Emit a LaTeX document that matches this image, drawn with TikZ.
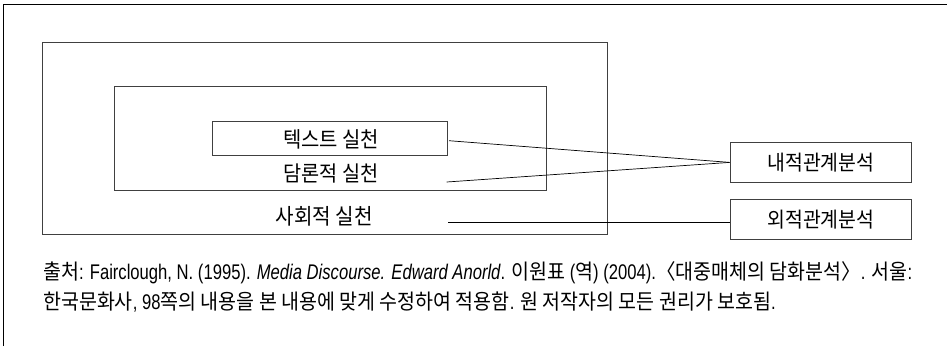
\documentclass[tikz,border=0pt]{standalone}
\usepackage{fontspec}
\usepackage{graphicx}
\setmainfont{Noto Sans CJK KR}[FakeStretch=0.92]
\newfontfamily\latinfnt{Liberation Sans}[FakeStretch=0.9]
\def\latfac{1}
\newcommand\LT[1]{\scalebox{\latfac}[1]{\latinfnt #1}}
\newcommand\LTI[1]{\scalebox{\latfac}[1]{\latinfnt\itshape #1}}
\newcommand\capfont{\fontsize{18.5}{22}\selectfont}
\newcommand\lineone{출처\LT{: Fairclough, N. (1995). }\LTI{Media Discourse. Edward Anorld}\LT{. }이원표\LT{ (}역\LT{) (2004).}〈대중매체의 담화분석〉\LT{. }서울\LT{:}}
\newcommand\linetwo{한국문화사\LT{, 98}쪽의 내용을 본 내용에 맞게 수정하여 적용함\LT{. }원 저작자의 모든 권리가 보호됨\LT{.}}
\newsavebox\capAbox
\newsavebox\capBbox
\begin{document}
\begin{tikzpicture}[x=1pt,y=-1pt,
  box/.style={draw=black!75, line width=0.8pt},
  lbl/.style={font=\fontsize{19}{22}\selectfont, inner sep=0pt},
  conn/.style={draw=black, line width=0.7pt},
  captxt/.style={font=\capfont, inner sep=0pt, anchor=west}]
% measure caption lines so both share one scale and line 1 fits its width
\pgfinterruptpicture
\normalfont
\sbox\capBbox{\capfont\linetwo}
\pgfmathsetmacro\sfac{739/\wd\capBbox}
\def\latfac{1}\sbox\capAbox{\capfont\lineone}\pgfmathsetmacro\wone{\wd\capAbox}
\def\latfac{0.5}\sbox\capAbox{\capfont\lineone}\pgfmathsetmacro\whalf{\wd\capAbox}
\pgfmathsetmacro\Lw{2*(\wone-\whalf)}
\pgfmathsetmacro\Kw{\wone-\Lw}
\pgfmathsetmacro\newfac{(869/\sfac-\Kw)/\Lw}
\xdef\latfacG{\newfac}
\xdef\sfacG{\sfac}
\endpgfinterruptpicture
\let\latfac\latfacG
\useasboundingbox (0,0) rectangle (947,346);
\draw[line width=0.9pt] (3,346) -- (3,4.5) -- (947,4.5);
% boxes
\node[box, minimum width=565pt, minimum height=192pt, anchor=north west] (outer) at (41.7,42) {};
\node[box, minimum width=432.6pt, minimum height=104pt, anchor=north west] (mid) at (113.7,86) {};
\node[box, minimum width=235pt, minimum height=34pt, anchor=north west] (inner) at (212,121) {};
\node[lbl] (t1) at (331,139) {\resizebox{96pt}{!}{텍스트 실천}};
\node[lbl] (t2) at (331,173) {\resizebox{95pt}{!}{담론적 실천}};
\node[lbl] (t3) at (324,216) {\resizebox{97pt}{!}{사회적 실천}};
\node[box, minimum width=181.6pt, minimum height=40pt, anchor=north west, lbl] (r1) at (729.7,142) {\resizebox{107pt}{!}{내적관계분석}};
\node[box, minimum width=181.6pt, minimum height=39.7pt, anchor=north west, lbl] (r2) at (729.7,199) {\resizebox{107pt}{!}{외적관계분석}};
\coordinate (a1) at (449,140.7);
\coordinate (a2) at (446.7,182);
\coordinate (a3) at (448,222.7);
\draw[conn] (a1) -- (r1.west);
\draw[conn] (a2) -- (r1.west);
\draw[conn] (a3) -- (a3 -| r2.west);
\node[captxt] (c1) at (43,273) {\scalebox{\sfacG}{\capfont\lineone}};
\node[captxt] (c2) at (43,302) {\scalebox{\sfacG}{\capfont\linetwo}};
\end{tikzpicture}
\end{document}
